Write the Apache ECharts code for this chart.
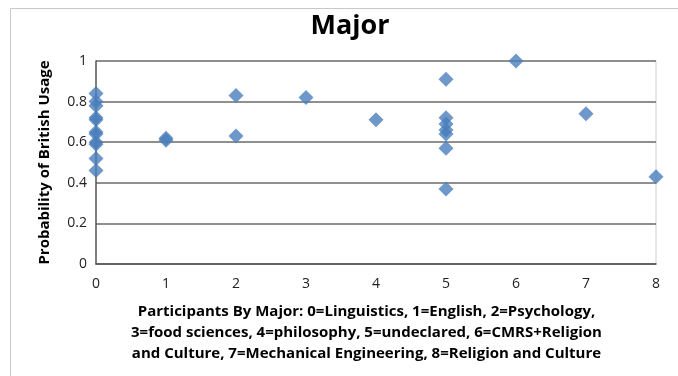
<!DOCTYPE html>
<html>
<head>
<meta charset="utf-8">
<script src="https://cdn.jsdelivr.net/npm/echarts@6/dist/echarts.min.js"></script>
<style>html,body{margin:0;padding:0;background:#fff}#c{width:678px;height:376px}</style>
</head>
<body>
<div id="c"></div>
<script>
const majorCodes = [0,0,0,0,0,0,0,0,0,0,0, 1,1, 2,2, 3, 4, 5,5,5,5,5,5,5, 6, 7, 8];
const probabilities = [0.84,0.80,0.78,0.72,0.71,0.65,0.64,0.60,0.59,0.52,0.46, 0.62,0.61, 0.83,0.63, 0.82, 0.71, 0.91,0.72,0.69,0.66,0.64,0.57,0.37, 1.0, 0.74, 0.43];
const xTicks = ['0','1','2','3','4','5','6','7','8'];
const yTicks = ['0','0.2','0.4','0.6','0.8','1'];
const titleText = 'Major';
const yName = 'Probability of British Usage';
const xNameLines = [
  'Participants By Major: 0=Linguistics, 1=English, 2=Psychology,',
  '3=food sciences, 4=philosophy, 5=undeclared, 6=CMRS+Religion',
  'and Culture, 7=Mechanical Engineering, 8=Religion and Culture'
];

const points = majorCodes.map((x, i) => [x, probabilities[i]]);
const fam = '"Open Sans", "Noto Sans", sans-serif';

const chart = echarts.init(document.getElementById('c'));
chart.setOption({
  animation: false,
  title: {
    text: titleText,
    left: 345, top: 8, textAlign: 'center',
    textStyle: { fontFamily: fam, fontSize: 27, fontWeight: 'bold', color: '#000' }
  },
  grid: { left: 96, right: 22, top: 61, bottom: 112 },
  xAxis: {
    type: 'value', min: 0, max: 8, interval: 1,
    axisLine: { show: true, onZero: false, lineStyle: { color: '#555', width: 1.5 } },
    axisTick: { show: false },
    splitLine: { show: false },
    axisLabel: {
      margin: 13, fontFamily: fam, fontSize: 14, color: '#222',
      formatter: v => xTicks[v]
    }
  },
  yAxis: {
    type: 'value', min: 0, max: 1, interval: 0.2,
    name: yName, nameLocation: 'middle', nameRotate: 90, nameGap: 44,
    nameTextStyle: { fontFamily: fam, fontSize: 15, fontWeight: 'bold', color: '#000' },
    axisLine: { show: true, lineStyle: { color: '#555', width: 1.5 } },
    axisTick: { show: false },
    splitLine: { show: true, lineStyle: { color: '#6a6a6a', width: 1.5 } },
    axisLabel: {
      margin: 9, fontFamily: fam, fontSize: 14, color: '#222',
      formatter: v => yTicks[Math.round(v * 5)]
    }
  },
  graphic: [
    { type: 'rect', shape: { x: 10.5, y: 8.5, width: 700, height: 400 },
      style: { fill: 'none', stroke: '#c8c8c8', lineWidth: 1 }, z: -1 },
    { type: 'line', shape: { x1: 656, y1: 61, x2: 656, y2: 264 },
      style: { stroke: '#d0d0d0', lineWidth: 1 }, z: -1 },
    { type: 'text', left: 131, top: 301,
      style: {
        text: xNameLines.join('\n'), x: 0, y: 0,
        font: 'bold 15px "Open Sans", "Noto Sans", sans-serif',
        fill: '#000', textAlign: 'center', lineHeight: 21
      }
    }
  ],
  series: [{
    type: 'scatter',
    data: points,
    symbol: 'diamond',
    symbolSize: 15,
    itemStyle: { color: '#4a7ebb' },
    clip: false
  }]
});
</script>
</body>
</html>
